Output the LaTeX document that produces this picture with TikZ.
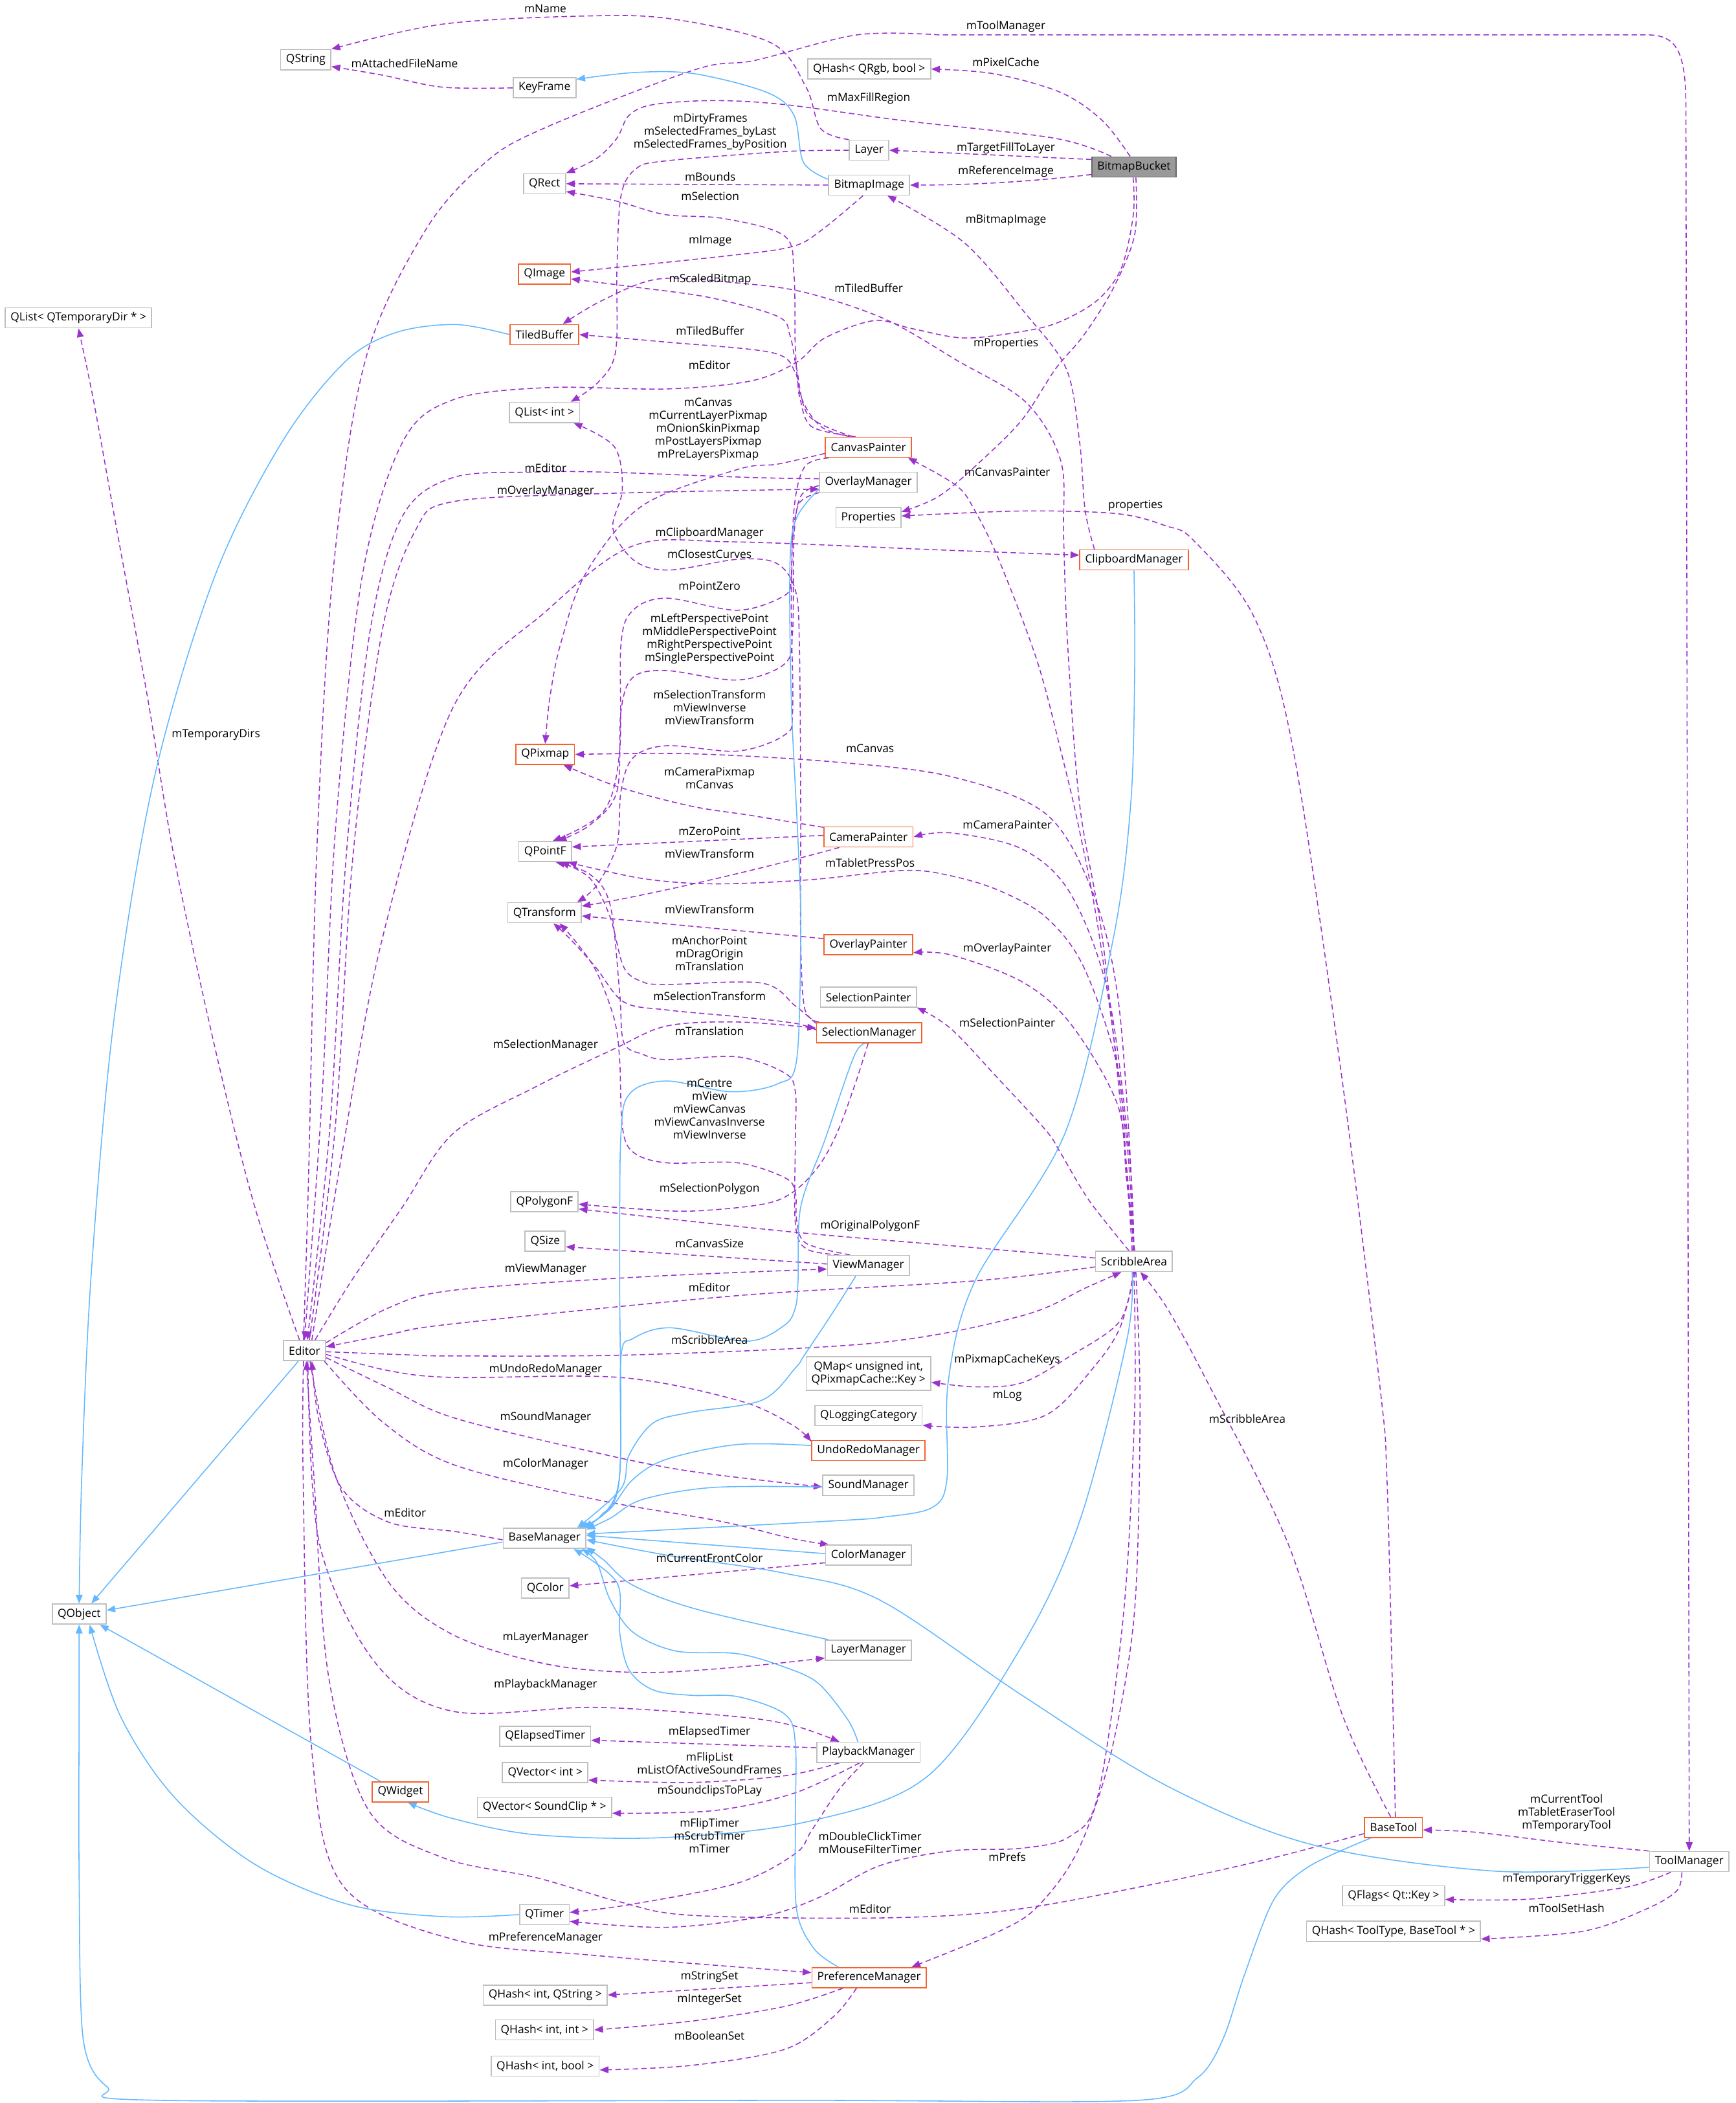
\documentclass[tikz,border=0pt]{standalone}
\usepackage{fontspec}
\setmainfont{Open Sans}
\usetikzlibrary{arrows.meta}
\definecolor{purp}{HTML}{9A32CD}
\definecolor{blu}{HTML}{63B8FF}
\definecolor{gbord}{HTML}{BFBFBF}
\definecolor{rbord}{HTML}{F4622F}
\definecolor{focfill}{HTML}{999999}
\definecolor{focbord}{HTML}{666666}
\newcommand\dfont{\fontsize{8.4}{9.65}\selectfont}
\pgfdeclarelayer{back}
\pgfdeclarelayer{edges}
\pgfsetlayers{back,edges,main}
\tikzset{
  cls/.style={draw=gbord, fill=white, line width=.8pt, inner xsep=4pt, inner ysep=0pt, minimum height=15pt, font=\dfont, align=center},
  rcls/.style={cls, draw=rbord},
  focus/.style={cls, draw=focbord, fill=focfill},
  lbl/.style={font=\dfont, align=center, inner sep=0pt},
  usage/.style={draw=purp, line width=.75pt, dash pattern=on 4pt off 2.5pt, -{Triangle[length=6.5pt,width=5pt,fill=purp]}},
  inh/.style={draw=blu, line width=.75pt, -{Triangle[length=6.5pt,width=5pt,fill=blu]}},
}
\begin{document}
\begin{tikzpicture}[x=1pt,y=-1pt]
\begin{pgfonlayer}{back}
\fill[white] (0,0) rectangle (1294,1568);
\end{pgfonlayer}
\useasboundingbox (0,0) rectangle (1294,1568);
% ---------------- nodes
\node[cls] (QString) at (228,44.5) {QString};
\node[cls] (KeyFrame) at (406,65.5) {KeyFrame};
\node[cls] (QHashQRgb) at (648,51.5) {QHash< QRgb, bool >};
\node[cls] (Layer) at (648,112) {Layer};
\node[focus] (BitmapBucket) at (845.5,124.5) {BitmapBucket};
\node[cls] (BitmapImage) at (648,138) {BitmapImage};
\node[cls] (QRect) at (406,137) {QRect};
\node[rcls] (QImage) at (406,204.5) {QImage};
\node[rcls] (TiledBuffer) at (406,249.5) {TiledBuffer};
\node[cls] (QListTemp) at (58.5,237) {QList< QTemporaryDir * >};
\node[cls] (QListInt) at (406,307.5) {QList< int >};
\node[rcls] (CanvasPainter) at (647.5,333.5) {CanvasPainter};
\node[cls] (OverlayManager) at (647.5,359.5) {OverlayManager};
\node[cls] (Properties) at (647.5,386) {Properties};
\node[rcls] (ClipboardManager) at (845.5,417.5) {ClipboardManager};
\node[rcls] (QPixmap) at (406.5,562.5) {QPixmap};
\node[rcls] (CameraPainter) at (647.5,624) {CameraPainter};
\node[cls] (QPointF) at (406.5,635) {QPointF};
\node[cls] (QTransform) at (406,680.5) {QTransform};
\node[rcls] (OverlayPainter) at (647.5,704.5) {OverlayPainter};
\node[cls] (SelectionPainter) at (647.5,743.5) {SelectionPainter};
\node[rcls] (SelectionManager) at (648,770) {SelectionManager};
\node[cls] (QPolygonF) at (406,896) {QPolygonF};
\node[cls] (QSize) at (406.5,925.5) {QSize};
\node[cls] (ViewManager) at (647.5,943.5) {ViewManager};
\node[cls] (ScribbleArea) at (845.5,940.5) {ScribbleArea};
\node[cls] (Editor) at (227,1007) {Editor};
\node[cls, minimum height=25pt] (QMap) at (647.5,1024) {QMap< unsigned int,\\ QPixmapCache::Key >};
\node[cls] (QLoggingCategory) at (647.5,1055.5) {QLoggingCategory};
\node[rcls] (UndoRedoManager) at (647.5,1081.5) {UndoRedoManager};
\node[cls] (SoundManager) at (647.5,1107.5) {SoundManager};
\node[cls] (BaseManager) at (406,1147) {BaseManager};
\node[cls] (ColorManager) at (647.5,1159.5) {ColorManager};
\node[cls] (QColor) at (406.5,1184) {QColor};
\node[cls] (QObject) at (59,1203.5) {QObject};
\node[cls] (LayerManager) at (647.5,1230.5) {LayerManager};
\node[cls] (QElapsedTimer) at (406.5,1294.5) {QElapsedTimer};
\node[cls] (PlaybackManager) at (647.5,1306.5) {PlaybackManager};
\node[cls] (QVectorInt) at (406.5,1321.5) {QVector< int >};
\node[rcls] (QWidget) at (298.5,1336) {QWidget};
\node[cls] (QVectorSC) at (406,1347.5) {QVector< SoundClip * >};
\node[rcls] (BaseTool) at (1039,1362.5) {BaseTool};
\node[cls] (ToolManager) at (1259.5,1388) {ToolManager};
\node[cls] (QFlags) at (1039,1413.5) {QFlags< Qt::Key >};
\node[cls] (QTimer) at (406,1427.5) {QTimer};
\node[cls] (QHashTT) at (1039,1440) {QHash< ToolType, BaseTool * >};
\node[rcls] (PreferenceManager) at (648,1474.5) {PreferenceManager};
\node[cls] (QHashIS) at (406.5,1487.5) {QHash< int, QString >};
\node[cls] (QHashII) at (406,1513.5) {QHash< int, int >};
\node[cls] (QHashIB) at (406.5,1540.5) {QHash< int, bool >};
% ---------------- labels
\node[lbl] (l01) at (406.6,6.6) {mName};
\node[lbl] (l02) at (750,19.8) {mToolManager};
\node[lbl] (l03) at (750,46.5) {mPixelCache};
\node[lbl] (l04) at (301.6,47.4) {mAttachedFileName};
\node[lbl] (l05) at (647.7,73.3) {mMaxFillRegion};
\node[lbl] (l06) at (529.5,98.6) {mDirtyFrames\\mSelectedFrames\_byLast\\mSelectedFrames\_byPosition};
\node[lbl] (l07) at (750,110.7) {mTargetFillToLayer};
\node[lbl] (l08) at (750,127.9) {mReferenceImage};
\node[lbl] (l09) at (529.5,131.8) {mBounds};
\node[lbl] (l10) at (529.5,146) {mSelection};
\node[lbl] (l11) at (750,164) {mBitmapImage};
\node[lbl] (l12) at (529.5,179.6) {mImage};
\node[lbl] (l13) at (529.5,208.5) {mScaledBitmap};
\node[lbl] (l14) at (647.7,214.9) {mTiledBuffer};
\node[lbl] (l15) at (529.5,246.5) {mTiledBuffer};
\node[lbl] (l16) at (750,256.3) {mProperties};
\node[lbl] (l17) at (529,272) {mEditor};
\node[lbl] (l18) at (161,548) {mTemporaryDirs};
\node[lbl] (l19) at (528,320) {mCanvas\\mCurrentLayerPixmap\\mOnionSkinPixmap\\mPostLayersPixmap\\mPreLayersPixmap};
\node[lbl] (l20) at (406.8,348.8) {mEditor};
\node[lbl] (l21) at (751,352) {mCanvasPainter};
\node[lbl] (l22) at (406.8,366.4) {mOverlayManager};
\node[lbl] (l23) at (846.6,377) {properties};
\node[lbl] (l24) at (529,397.7) {mClipboardManager};
\node[lbl] (l25) at (529,413) {mClosestCurves};
\node[lbl] (l26) at (529,437) {mPointZero};
\node[lbl] (l27) at (529,476.5) {mLeftPerspectivePoint\\mMiddlePerspectivePoint\\mRightPerspectivePoint\\mSinglePerspectivePoint};
\node[lbl] (l28) at (529,527.5) {mSelectionTransform\\mViewInverse\\mViewTransform};
\node[lbl] (l29) at (648.7,557.8) {mCanvas};
\node[lbl] (l30) at (529,580) {mCameraPixmap\\mCanvas};
\node[lbl] (l31) at (751,615) {mCameraPainter};
\node[lbl] (l32) at (529,619.7) {mZeroPoint};
\node[lbl] (l33) at (529,636.3) {mViewTransform};
\node[lbl] (l34) at (648.7,643.3) {mTabletPressPos};
\node[lbl] (l35) at (529,677.9) {mViewTransform};
\node[lbl] (l36) at (751,707.4) {mOverlayPainter};
\node[lbl] (l37) at (529,711) {mAnchorPoint\\mDragOrigin\\mTranslation};
\node[lbl] (l38) at (529,742.5) {mSelectionTransform};
\node[lbl] (l39) at (751,762.3) {mSelectionPainter};
\node[lbl] (l40) at (529,769) {mTranslation};
\node[lbl] (l41) at (406.8,779.5) {mSelectionManager};
\node[lbl] (l42) at (529,827) {mCentre\\mView\\mViewCanvas\\mViewCanvasInverse\\mViewInverse};
\node[lbl] (l43) at (529,886.7) {mSelectionPolygon};
\node[lbl] (l44) at (648.7,913.9) {mOriginalPolygonF};
\node[lbl] (l45) at (529,927) {mCanvasSize};
\node[lbl] (l46) at (406.8,946.7) {mViewManager};
\node[lbl] (l47) at (529,960) {mEditor};
\node[lbl] (l48) at (529,999) {mScribbleArea};
\node[lbl] (l49) at (751,1014) {mPixmapCacheKeys};
\node[lbl] (l50) at (406.8,1021) {mUndoRedoManager};
\node[lbl] (l51) at (751,1040.6) {mLog};
\node[lbl] (l52) at (406.8,1057) {mSoundManager};
\node[lbl] (l53) at (930,1058) {mScribbleArea};
\node[lbl] (l54) at (406.8,1091.5) {mColorManager};
\node[lbl] (l55) at (302,1128) {mEditor};
\node[lbl] (l56) at (529,1161.7) {mCurrentFrontColor};
\node[lbl] (l57) at (406.8,1221) {mLayerManager};
\node[lbl] (l58) at (406.8,1256) {mPlaybackManager};
\node[lbl] (l59) at (529,1291.5) {mElapsedTimer};
\node[lbl] (l60) at (529,1314.5) {mFlipList\\mListOfActiveSoundFrames};
\node[lbl] (l61) at (529,1335.4) {mSoundclipsToPLay};
\node[lbl] (l62) at (1168,1352) {mCurrentTool\\mTabletEraserTool\\mTemporaryTool};
\node[lbl] (l63) at (529,1368.7) {mFlipTimer\\mScrubTimer\\mTimer};
\node[lbl] (l64) at (648.7,1374) {mDoubleClickTimer\\mMouseFilterTimer};
\node[lbl] (l65) at (751,1384.7) {mPrefs};
\node[lbl] (l66) at (1168,1401) {mTemporaryTriggerKeys};
\node[lbl] (l67) at (648.7,1423) {mEditor};
\node[lbl] (l68) at (1168,1422.6) {mToolSetHash};
\node[lbl] (l69) at (406.8,1444.7) {mPreferenceManager};
\node[lbl] (l70) at (529,1474) {mStringSet};
\node[lbl] (l71) at (529,1491) {mIntegerSet};
\node[lbl] (l72) at (529,1517.8) {mBooleanSet};
% ---------------- edges
\begin{pgfonlayer}{edges}
% usage (dashed)
\draw[usage] plot[smooth,tension=.55] coordinates {(KeyFrame.west) (330,65) (285,56) (QString.-15)};
\draw[usage] plot[smooth,tension=.55] coordinates {(Layer.north west) (612,96) (601,65) (575,32) (500,14) (434,12) (330,18) (QString.north east)};
\draw[usage] plot[smooth,tension=.55] coordinates {(BitmapBucket.110) (822,90) (791,69) (741,55) (QHashQRgb.east)};
\draw[usage] plot[smooth,tension=.55] coordinates {(BitmapBucket.155) (786,103) (674,90) (585,78) (532,75) (487,78) (469,86) (460,103) (445,118) (QRect.north east)};
\draw[usage] (BitmapBucket.170) -- (Layer.east);
\draw[usage] (BitmapBucket.-170) .. controls (790,133) and (740,138) .. (BitmapImage.east);
\draw[usage] plot[smooth,tension=.55] coordinates {(Layer.west) (585,113) (496,120) (474,126) (463,146) (460,200) (459,262) (446,285) (QListInt.22)};
\draw[usage] (BitmapImage.west) -- (QRect.east);
\draw[usage] plot[smooth,tension=.55] coordinates {(CanvasPainter.150) (612,318) (597,295) (593,260) (592,205) (585,176) (540,163) (496,160) (460,150) (QRect.-20)};
\draw[usage] plot[smooth,tension=.55] coordinates {(ClipboardManager.165) (809,380) (805,330) (795,275) (764,233) (719,181) (BitmapImage.-30)};
\draw[usage] plot[smooth,tension=.55] coordinates {(BitmapImage.-120) (612,172) (590,184) (540,191) (QImage.5)};
\draw[usage] plot[smooth,tension=.55] coordinates {(CanvasPainter.145) (603,310) (594,275) (589,250) (580,236) (530,222) (473,214) (QImage.-10)};
\draw[usage] plot[smooth,tension=.55] coordinates {(ScribbleArea.100) (838,850) (822,700) (805,600) (796,480) (793,400) (791,344) (765,300) (714,269) (660,238) (600,218) (550,211) (491,208) (449,224) (TiledBuffer.30)};
\draw[usage] plot[smooth,tension=.55] coordinates {(CanvasPainter.140) (605,318) (596,295) (593,278) (576,263) (496,255) (TiledBuffer.east)};
\draw[usage] plot[smooth,tension=.55] coordinates {(BitmapBucket.-80) (846,175) (830,215) (808,250) (787,275) (762,313) (730,345) (700,370) (Properties.10)};
\draw[usage] plot[smooth,tension=.55] coordinates {(BitmapBucket.-95) (845,160) (836,200) (818,224) (790,240) (763,247) (719,252) (680,245) (652,239) (615,252) (594,270) (560,284) (497,290) (408,289) (338,298) (300,330) (270,430) (250,620) (240,820) (Editor.90)};
\draw[usage] plot[smooth,tension=.55] coordinates {(Editor.115) (190,900) (160,780) (130,640) (110,520) (88,400) (70,300) (QListTemp.south)};
\draw[usage] plot[smooth,tension=.55] coordinates {(Editor.95) (230,880) (236,640) (248,430) (272,270) (317,172) (362,121) (407,95) (518,52) (563,45) (639,26) (700,26)} -- (1228,26) .. controls (1250,26) and (1257,38) .. (1257,80) -- (ToolManager.north);
\draw[usage] plot[smooth,tension=.55] coordinates {(CanvasPainter.-172) (580,346) (550,350) (479,377) (437,427) (418,480) (410,520) (QPixmap.north)};
\draw[usage] plot[smooth,tension=.55] coordinates {(OverlayManager.176) (560,356) (450,352) (400,352) (338,356) (300,385) (276,470) (258,640) (246,840) (Editor.75)};
\draw[usage] plot[smooth,tension=.55] coordinates {(Editor.65) (250,840) (263,640) (285,470) (310,395) (338,374) (450,368) (OverlayManager.-172)};
\draw[usage] plot[smooth,tension=.55] coordinates {(ScribbleArea.95) (840,850) (820,700) (805,620) (791,560) (773,492) (745,418) (727,381) (713,362) (CanvasPainter.-15)};
\draw[usage] plot[smooth,tension=.55] coordinates {(BaseTool.80) (1038,1250) (1034,1100) (1029,1035) (1000,800) (964,558) (935,460) (890,403) (869,392) (833,383) (762,381) (Properties.3)};
\draw[usage] plot[smooth,tension=.55] coordinates {(Editor.55) (255,860) (285,700) (338,527) (408,455) (472,407) (546,404) (700,410) (ClipboardManager.175)};
\draw[usage] plot[smooth,tension=.55] coordinates {(SelectionManager.168) (600,752) (597,700) (597,600) (596,480) (593,440) (579,420) (550,417) (499,425) (473,418) (457,394) (464,365) (458,333) (QListInt.-20)};
\draw[usage] plot[smooth,tension=.55] coordinates {(OverlayManager.-168) (596,375) (591,400) (590,430) (585,444) (550,455) (497,446) (472,455) (463,480) (462,560) (450,605) (QPointF.55)};
\draw[usage] plot[smooth,tension=.55] coordinates {(OverlayManager.-176) (597,370) (592,400) (591,470) (585,495) (550,507) (497,500) (472,505) (463,530) (460,590) (440,615) (QPointF.40)};
\draw[usage] plot[smooth,tension=.55] coordinates {(CanvasPainter.-165) (600,348) (592,380) (590,450) (591,530) (585,548) (550,560) (497,556) (472,565) (463,590) (460,630) (445,660) (QTransform.18)};
\draw[usage] plot[smooth,tension=.55] coordinates {(ScribbleArea.92) (842,850) (833,740) (815,666) (780,607) (709,579) (621,568) (515,562) (QPixmap.east)};
\draw[usage] plot[smooth,tension=.55] coordinates {(CameraPainter.168) (560,608) (515,601) (462,587) (QPixmap.-30)};
\draw[usage] plot[smooth,tension=.55] coordinates {(ScribbleArea.90) (842,860) (826,740) (798,666) (762,633) (709,621) (CameraPainter.east)};
\draw[usage] (CameraPainter.178) -- (QPointF.10);
\draw[usage] (CameraPainter.-160) .. controls (560,650) and (480,668) .. (QTransform.10);
\draw[usage] plot[smooth,tension=.55] coordinates {(ScribbleArea.88) (840,870) (833,795) (808,721) (780,684) (745,664) (709,653) (674,649) (603,656) (532,659) (479,655) (QPointF.-25)};
\draw[usage] (OverlayPainter.172) -- (QTransform.-5);
\draw[usage] plot[smooth,tension=.55] coordinates {(ScribbleArea.86) (840,880) (833,823) (798,763) (762,732) (709,712) (OverlayPainter.-10)};
\draw[usage] plot[smooth,tension=.55] coordinates {(SelectionManager.170) (593,750) (568,733) (497,734) (479,732) (465,721) (455,684) (440,655) (QPointF.-35)};
\draw[usage] plot[smooth,tension=.55] coordinates {(SelectionManager.177) (593,763) (550,758) (497,753) (465,747) (444,721) (425,700) (QTransform.-50)};
\draw[usage] plot[smooth,tension=.55] coordinates {(ScribbleArea.115) (812,895) (791,860) (780,843) (745,805) (709,767) (SelectionPainter.-12)};
\draw[usage] plot[smooth,tension=.55] coordinates {(ViewManager.160) (601,931) (593,912) (593,850) (593,814) (585,800) (550,788) (497,790) (479,786) (465,777) (462,740) (455,675) (440,652) (QPointF.-45)};
\draw[usage] plot[smooth,tension=.55] coordinates {(Editor.45) (262,955) (300,900) (338,845) (400,810) (458,782) (497,765) (550,762) (SelectionManager.175)};
\draw[usage] plot[smooth,tension=.55] coordinates {(ViewManager.150) (601,927) (594,910) (593,889) (585,878) (550,867) (497,867) (472,859) (464,840) (462,790) (458,760) (445,725) (430,703) (QTransform.-35)};
\draw[usage] plot[smooth,tension=.55] coordinates {(SelectionManager.-95) (637,810) (624,845) (610,870) (591,889) (568,898) (515,903) (470,901) (QPolygonF.-4)};
\draw[usage] plot[smooth,tension=.55] coordinates {(ScribbleArea.175) (700,928) (585,918) (QPolygonF.-12)};
\draw[usage] (ViewManager.178) -- (QSize.-15);
\draw[usage] plot[smooth,tension=.55] coordinates {(Editor.20) (290,975) (338,962) (479,952) (ViewManager.-175)};
\draw[usage] plot[smooth,tension=.55] coordinates {(ScribbleArea.-172) (727,955) (550,966) (338,987) (290,995) (Editor.10)};
\draw[usage] plot[smooth,tension=.55] coordinates {(Editor.-3) (300,1010) (338,1011) (479,1010) (656,1001) (762,981) (810,960) (ScribbleArea.-140)};
\draw[usage] plot[smooth,tension=.55] coordinates {(ScribbleArea.-95) (835,985) (798,1011) (762,1031) (727,1034) (QMap.-8)};
\draw[usage] plot[smooth,tension=.55] coordinates {(Editor.-10) (290,1022) (338,1027) (462,1027) (550,1044) (590,1062) (UndoRedoManager.171)};
\draw[usage] plot[smooth,tension=.55] coordinates {(ScribbleArea.-85) (835,990) (815,1020) (780,1055) (727,1064) (QLoggingCategory.-10)};
\draw[usage] plot[smooth,tension=.55] coordinates {(BaseTool.105) (1001,1279) (960,1150) (900,1030) (870,975) (ScribbleArea.-59)};
\draw[usage] plot[smooth,tension=.55] coordinates {(Editor.-18) (290,1035) (338,1057) (444,1083) (515,1097) (SoundManager.-178)};
\draw[usage] plot[smooth,tension=.55] coordinates {(Editor.-28) (285,1060) (338,1092) (444,1118) (536,1134) (590,1147) (ColorManager.165)};
\draw[usage] plot[smooth,tension=.55] coordinates {(BaseManager.-178) (340,1142) (290,1135) (255,1110) (238,1060) (Editor.-55)};
\draw[usage] (ColorManager.-170) -- (QColor.5);
\draw[usage] plot[smooth,tension=.55] coordinates {(Editor.-62) (250,1100) (290,1180) (338,1219) (409,1241) (479,1247) (550,1243) (LayerManager.-170)};
\draw[usage] plot[smooth,tension=.55] coordinates {(Editor.-72) (238,1150) (280,1240) (338,1276) (444,1273) (550,1280) (593,1287) (PlaybackManager.160)};
\draw[usage] (PlaybackManager.175) -- (QElapsedTimer.-5);
\draw[usage] plot[smooth,tension=.55] coordinates {(PlaybackManager.-160) (585,1324) (515,1329) (QVectorInt.-10)};
\draw[usage] plot[smooth,tension=.55] coordinates {(PlaybackManager.-130) (592,1337) (532,1350) (QVectorSC.-5)};
\draw[usage] plot[smooth,tension=.55] coordinates {(PlaybackManager.-115) (625,1335) (605,1365) (593,1382) (550,1404) (470,1420) (QTimer.5)};
\draw[usage] plot[smooth,tension=.55] coordinates {(ScribbleArea.-90) (846,1050) (838,1200) (819,1337) (798,1369) (762,1378) (709,1380) (656,1391) (610,1415) (568,1429) (497,1437) (QTimer.-15)};
\draw[usage] plot[smooth,tension=.55] coordinates {(ScribbleArea.-80) (850,1050) (846,1200) (830,1300) (812,1360) (795,1395) (770,1425) (745,1440) (709,1455) (PreferenceManager.14)};
\draw[usage] plot[smooth,tension=.55] coordinates {(ToolManager.north west) (1167,1374) (1099,1366) (BaseTool.-5)};
\draw[usage] plot[smooth,tension=.55] coordinates {(ToolManager.-150) (1230,1402) (1207,1408) (1140,1416) (QFlags.-4)};
\draw[usage] plot[smooth,tension=.55] coordinates {(ToolManager.-125) (1250,1410) (1226,1424) (1180,1440) (QHashTT.-5)};
\draw[usage] plot[smooth,tension=.55] coordinates {(BaseTool.-168) (950,1385) (869,1403) (755,1424) (656,1430) (515,1428) (462,1418) (400,1400) (330,1385) (275,1350) (245,1250) (234,1100) (Editor.-80)};
\draw[usage] plot[smooth,tension=.55] coordinates {(Editor.-95) (226,1100) (232,1300) (255,1405) (338,1446) (444,1458) (PreferenceManager.175)};
\draw[usage] (PreferenceManager.-175) -- (QHashIS.east);
\draw[usage] plot[smooth,tension=.55] coordinates {(PreferenceManager.-158) (585,1496) (515,1507) (QHashII.east)};
\draw[usage] plot[smooth,tension=.55] coordinates {(PreferenceManager.-140) (621,1504) (585,1528) (515,1540) (QHashIB.-4)};
% inheritance (solid)
\draw[inh] plot[smooth,tension=.55] coordinates {(BitmapImage.172) (599,121) (592,86) (572,69) (518,55) (474,54) (KeyFrame.15)};
\draw[inh] plot[smooth,tension=.55] coordinates {(TiledBuffer.west) (340,242) (295,248) (257,270) (210,330) (160,430) (115,580) (85,760) (68,950) (61,1100) (QObject.north)};
\draw[inh] (Editor.-120) -- (QObject.41);
\draw[inh] (BaseManager.-175) -- (QObject.8);
\draw[inh] (QWidget.152) -- (QObject.-27);
\draw[inh] plot[smooth,tension=.55] coordinates {(QTimer.west) (330,1429) (260,1420) (190,1390) (130,1340) (90,1280) (QObject.-45)};
\draw[inh] plot[smooth,tension=.5] coordinates {(BaseTool.-155) (977,1391) (950,1416) (928,1472) (912,1520) (893,1549) (848,1566) (600,1566) (120,1566) (80,1556) (62,1520) (59,1400) (59,1260) (QObject.south)};
\draw[inh] plot[smooth,tension=.55] coordinates {(OverlayManager.-172) (594,386) (589,420) (590,522) (595,627) (597,690) (594,790) (580,808) (545,814) (497,806) (470,815) (463,845) (462,950) (462,1100) (448,1130) (BaseManager.16)};
\draw[inh] plot[smooth,tension=.55] coordinates {(ClipboardManager.-90) (846,500) (843,600) (830,700) (794,845) (727,955) (707,1030) (706,1103) (695,1124) (660,1131) (621,1134) (BaseManager.6)};
\draw[inh] plot[smooth,tension=.55] coordinates {(SelectionManager.-100) (637,787) (615,850) (597,900) (595,955) (593,975) (585,988) (557,1000) (500,990) (472,998) (463,1012) (462,1100) (451,1128) (BaseManager.17)};
\draw[inh] plot[smooth,tension=.55] coordinates {(ViewManager.-140) (620,980) (600,1010) (593,1020) (568,1044) (515,1053) (487,1061) (469,1085) (463,1110) (BaseManager.18)};
\draw[inh] plot[smooth,tension=.55] coordinates {(UndoRedoManager.175) (550,1077) (497,1088) (472,1103) (455,1125) (BaseManager.15)};
\draw[inh] plot[smooth,tension=.55] coordinates {(SoundManager.-178) (532,1109) (479,1118) (455,1132) (BaseManager.12)};
\draw[inh] (ColorManager.178) -- (BaseManager.4);
\draw[inh] plot[smooth,tension=.55] coordinates {(LayerManager.165) (520,1200) (472,1182) (450,1163) (BaseManager.-12)};
\draw[inh] plot[smooth,tension=.55] coordinates {(PlaybackManager.135) (632,1282) (610,1255) (585,1243) (550,1233) (504,1231) (472,1217) (455,1193) (445,1165) (BaseManager.-16)};
\draw[inh] plot[smooth,tension=.55] coordinates {(PreferenceManager.161) (607,1453) (594,1424) (593,1360) (593,1300) (585,1278) (550,1265) (515,1264) (487,1260) (469,1245) (462,1217) (460,1180) (BaseManager.-20)};
\draw[inh] plot[smooth,tension=.55] coordinates {(ToolManager.-172) (1113,1395) (977,1375) (869,1331) (762,1264) (656,1193) (585,1173) (500,1160) (BaseManager.-2)};
\draw[inh] plot[smooth,tension=.55] coordinates {(ScribbleArea.-100) (840,1000) (805,1134) (762,1227) (692,1324) (603,1358) (497,1370) (400,1368) (338,1356) (QWidget.-55)};
\end{pgfonlayer}
\end{tikzpicture}
\end{document}
